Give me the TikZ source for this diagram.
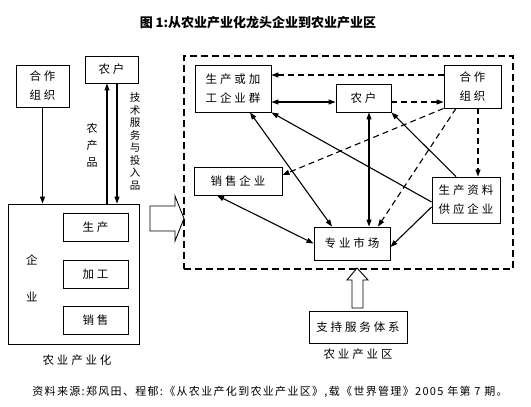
\documentclass[tikz,border=0pt]{standalone}
\usepackage{fontspec}
\setmainfont{Noto Sans CJK SC}
\newfontfamily\cjk[LetterSpace=25]{Noto Sans CJK SC}
\newfontfamily\cjksrc[LetterSpace=12]{Noto Sans CJK SC}
\usetikzlibrary{arrows.meta,calc}
\begin{document}
\begin{tikzpicture}[x=1pt,y=-1pt,
  box/.style={draw,line width=0.9pt,inner sep=0pt,font=\cjk\fontsize{11.5}{19}\selectfont,align=center},
  lab/.style={inner sep=0pt,font=\cjk\fontsize{11.5}{14}\selectfont,align=center},
  arr/.style={line width=1.1pt,-{Triangle[length=7pt,width=5pt]}},
  barr/.style={line width=1.1pt,{Triangle[length=7pt,width=5pt]}-{Triangle[length=7pt,width=5pt]}},
  darr/.style={arr,dash pattern=on 6pt off 4pt},
  blockarrow/.style={draw,line width=0.9pt,fill=white}
]
\useasboundingbox (0,0) rectangle (531,407);
\fill[white] (0,0) rectangle (531,407);

% title
\node[inner sep=0pt,font=\bfseries\fontsize{13}{15}\selectfont] (title) at (258,23) {图 1:从农业产业化龙头企业到农业产业区};

% left part
\node[box,minimum width=53pt,minimum height=42pt] (lhz) at (42.5,86) {合作\\组织};
\node[box,minimum width=53pt,minimum height=27pt] (lnh) at (111.5,69.5) {农户};
\node[draw,line width=0.9pt,minimum width=131pt,minimum height=140pt,inner sep=0pt] (qy) at (73.5,274) {};
\node[box,minimum width=65pt,minimum height=28pt] (scp) at (95.5,227) {生产};
\node[box,minimum width=65pt,minimum height=28pt] (jg) at (95.5,274) {加工};
\node[box,minimum width=65pt,minimum height=28pt] (xsh) at (95.5,320) {销售};
\node[lab] (qi) at (32,260) {企};
\node[lab] (ye) at (32,297) {业};
\node[lab] (nyh) at (77,360) {农业产业化};

\draw[arr] (lhz.south) -- (lhz.south |- qy.north);
\draw[arr] ([xshift=-4.5pt]lnh.south |- qy.north) -- ([xshift=-4.5pt]lnh.south);
\draw[arr] ([xshift=5.5pt]lnh.south) -- ([xshift=5.5pt]lnh.south |- qy.north);
\node[lab,font=\cjk\fontsize{11}{17}\selectfont] (ncp) at (92,145) {农\\产\\品};
\node[lab,font=\cjk\fontsize{10.5}{12.5}\selectfont] (jsfw) at (135,141.5) {技\\术\\服\\务\\与\\投\\入\\品};

% right block arrow
\draw[blockarrow] (150,206) -- (175,206) -- (175,196) -- (184,218.5) -- (175,241) -- (175,231) -- (150,231) -- cycle;

% zone
\node[draw,line width=1.4pt,dash pattern=on 7pt off 4pt,minimum width=329pt,minimum height=213pt,inner sep=0pt] (zone) at (348.5,162.5) {};

\node[box,minimum width=76pt,minimum height=47pt] (pj) at (233,88.5) {生产或加\\工企业群};
\node[box,minimum width=55pt,minimum height=28pt] (nh) at (363.5,98) {农户};
\node[box,minimum width=57pt,minimum height=43pt] (hz) at (472.5,86.5) {合作\\组织};
\node[box,minimum width=88pt,minimum height=28pt] (xs) at (238,181) {销售企业};
\node[box,minimum width=68pt,minimum height=46pt] (zl) at (466,200) {生产资料\\供应企业};
\node[box,minimum width=76pt,minimum height=33pt] (sc) at (352,243.5) {专业市场};

\draw[darr] ([yshift=11.5pt]hz.west) -- ([yshift=11.5pt]hz.west -| pj.east);
\draw[barr] ([yshift=-4pt]nh.west -| pj.east) -- ([yshift=-4pt]nh.west);
\draw[darr] ([yshift=-4pt]nh.east) -- ([yshift=-4pt]nh.east -| hz.west);
\draw[darr] ([xshift=5.5pt]hz.south) -- ([xshift=5.5pt]hz.south |- zl.north);
\draw[darr] (hz.south west) -- ([yshift=6pt]xs.east);
\draw[darr] ([xshift=-16.5pt]hz.south) -- ([xshift=26pt]sc.north);
\draw[barr] ([xshift=5.5pt]nh.south) -- ([xshift=5.5pt]nh.south |- sc.north);
\draw[barr] ([xshift=17pt]pj.south) -- ([xshift=-20pt]sc.north);
\draw[arr] ([yshift=-2pt]zl.west) -- (pj.south east);
\draw[arr] ([xshift=-10pt]zl.north) -- (nh.south east);
\draw[arr] ([yshift=-7pt]zl.west) -- ([yshift=-3.5pt]sc.east);
\draw[barr] ([xshift=-21pt]xs.south) -- (sc.west);

% support
\node[box,minimum width=98pt,minimum height=32pt] (zc) at (358,327) {支持服务体系};
\node[lab] (nyq) at (358,354) {农业产业区};
\draw[blockarrow] (352,308) -- (352,280) -- (347,280) -- (357,268) -- (368,280) -- (363,280) -- (363,308) -- cycle;

% source
\node[inner sep=0pt,font=\cjksrc\fontsize{11}{13}\selectfont] (src) at (270,392) {资料来源:郑风田、程郁:《从农业产化到农业产业区》,载《世界管理》2005 年第 7 期。};
\end{tikzpicture}
\end{document}
